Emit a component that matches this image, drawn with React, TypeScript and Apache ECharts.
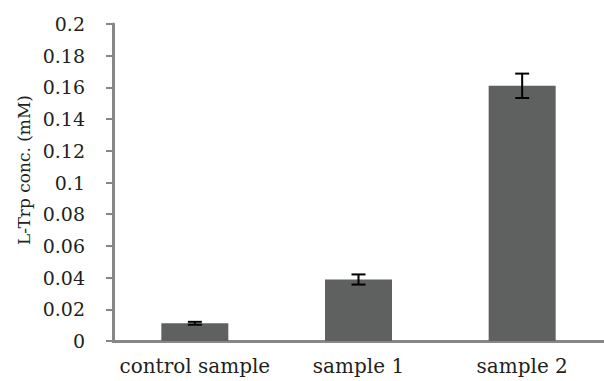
import React, { useEffect, useRef } from "react";
import * as echarts from "echarts";

const categories = ["control sample", "sample 1", "sample 2"];
const values = [0.0112, 0.0388, 0.161];
const errors = [0.0009, 0.0032, 0.0077];
const yTicks = { min: 0, max: 0.2, interval: 0.02 };
const yTitle = "L-Trp conc. (mM)";

export default function App() {
  const ref = useRef<HTMLDivElement>(null);
  useEffect(() => {
    document.body.style.margin = "0";
    const chart = echarts.init(ref.current!, null, { renderer: "svg" });
    const font = "DejaVu Serif";
    const errData = values.map((v, i) => [i, v - errors[i], v + errors[i]]);
    chart.setOption({
      animation: false,
      backgroundColor: "#ffffff",
      grid: { left: 113, top: 24, width: 504, height: 317, containLabel: false },
      xAxis: {
        type: "category",
        data: categories,
        axisLine: { show: true, lineStyle: { color: "#878787", width: 3 } },
        axisTick: { show: false },
        axisLabel: { interval: 0, fontFamily: font, fontSize: 20, color: "#231f20", margin: 15 },
      },
      yAxis: {
        type: "value",
        min: yTicks.min,
        max: yTicks.max,
        interval: yTicks.interval,
        splitLine: { show: false },
        axisLine: { show: true, lineStyle: { color: "#878787", width: 3 } },
        axisTick: { show: true, inside: false, length: 7, lineStyle: { color: "#878787", width: 2 } },
        axisLabel: { fontFamily: font, fontSize: 19, color: "#231f20", margin: 28 },
      },
      graphic: [
        {
          type: "text",
          x: 24,
          y: 170,
          rotation: Math.PI / 2,
          style: {
            text: yTitle,
            fontFamily: font,
            fontSize: 17,
            fill: "#231f20",
            textAlign: "center",
            textVerticalAlign: "middle",
          },
        },
      ],
      series: [
        {
          type: "bar",
          data: values,
          barWidth: 67,
          itemStyle: { color: "#5f6060" },
        },
        {
          type: "custom",
          data: errData,
          renderItem: (params: any, api: any) => {
            const x = api.value(0);
            const lo = api.coord([x, api.value(1)]);
            const hi = api.coord([x, api.value(2)]);
            const hw = 7;
            const style = { stroke: "#000", lineWidth: 2 };
            return {
              type: "group",
              children: [
                { type: "line", shape: { x1: hi[0], y1: hi[1], x2: lo[0], y2: lo[1] }, style },
                { type: "line", shape: { x1: hi[0] - hw, y1: hi[1], x2: hi[0] + hw, y2: hi[1] }, style },
                { type: "line", shape: { x1: lo[0] - hw, y1: lo[1], x2: lo[0] + hw, y2: lo[1] }, style },
              ],
            };
          },
          z: 10,
        },
      ],
    });
    return () => chart.dispose();
  }, []);
  return <div ref={ref} style={{ width: 604, height: 381 }} />;
}
